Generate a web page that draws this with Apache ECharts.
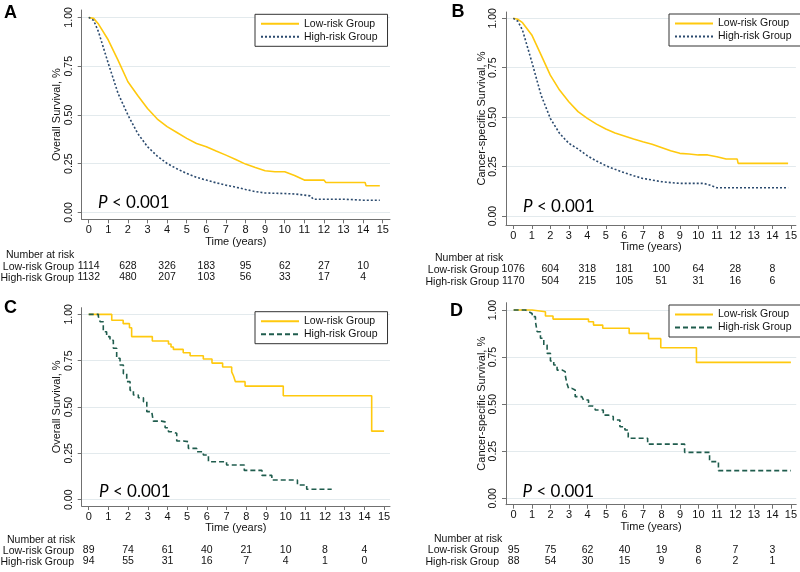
<!DOCTYPE html>
<html><head><meta charset="utf-8">
<script src="https://cdn.jsdelivr.net/npm/echarts@6/dist/echarts.min.js"></script>
<style>html,body{margin:0;padding:0;background:#fff}#c{width:800px;height:572px}</style>
</head><body><div id="c"></div>
<script>
// ---------- data ----------
const yearTicks = [0,1,2,3,4,5,6,7,8,9,10,11,12,13,14,15];
const survTicks = [0,0.25,0.5,0.75,1];
const riskYears = [0,2,4,6,8,10,12,14];

// Panel A - Overall survival (cohort)
const aLowT  = [0,0.25,0.5,1,1.5,2,2.5,3,3.5,4,4.5,5,5.5,6,6.5,7,7.5,8,8.5,9,9.5,10,10.5,11,12,12.1,14.1,14.15,14.85];
const aLowS  = [1,0.995,0.966,0.884,0.78,0.67,0.60,0.533,0.479,0.44,0.41,0.38,0.354,0.337,0.315,0.294,0.272,0.248,0.23,0.214,0.209,0.209,0.19,0.166,0.166,0.154,0.154,0.137,0.137];
const aHighT = [0,0.25,0.5,1,1.5,2,2.5,3,3.5,4,4.5,5,5.5,6,6.5,7,7.5,8,8.5,9,10,10.5,11,11.3,11.46,13,14,14.85];
const aHighS = [1,0.985,0.926,0.764,0.61,0.5,0.405,0.337,0.289,0.251,0.224,0.2,0.18,0.166,0.152,0.14,0.13,0.118,0.107,0.10,0.097,0.095,0.089,0.085,0.068,0.068,0.063,0.063];

// Panel B - Cancer-specific survival (cohort)
const bLowT  = [0,0.25,0.5,1,1.5,2,2.5,3,3.5,4,4.5,5,5.5,6,6.5,7,7.5,8,8.5,9,9.5,10,10.5,11,11.5,12.1,12.15,14.85];
const bLowS  = [1,0.995,0.978,0.916,0.815,0.713,0.637,0.578,0.528,0.494,0.465,0.44,0.42,0.405,0.39,0.376,0.363,0.347,0.33,0.317,0.314,0.309,0.309,0.30,0.288,0.288,0.266,0.266];
const bHighT = [0,0.25,0.5,1,1.5,2,2.5,3,3.5,4,4.5,5,5.5,6,6.5,7,7.5,8,8.5,9,10.3,10.6,11,14.85];
const bHighS = [1,0.985,0.94,0.78,0.612,0.494,0.418,0.368,0.339,0.305,0.278,0.255,0.236,0.219,0.204,0.19,0.182,0.174,0.169,0.165,0.165,0.157,0.143,0.143];

// Panel C - Overall survival (subgroup), step curves
const cLowT  = [0,1.17,1.75,2.07,2.18,3.23,4.05,4.18,4.3,4.8,5.15,5.82,6.26,6.8,7.26,7.35,7.45,7.94,9.88,14.37,15.0];
const cLowS  = [1,0.968,0.95,0.928,0.88,0.856,0.84,0.824,0.811,0.793,0.777,0.759,0.737,0.716,0.69,0.669,0.637,0.613,0.561,0.37,0.37];
const cHighT = [0,0.49,0.58,0.74,0.91,1.08,1.25,1.42,1.59,1.76,1.93,2.1,2.27,2.52,2.78,2.95,3.2,3.28,3.7,3.88,4.05,4.2,4.47,4.8,5.06,5.48,5.82,6.08,7.0,7.9,8.8,9.3,10.6,11.07,12.34];
const cHighS = [1,0.989,0.96,0.906,0.88,0.86,0.817,0.763,0.727,0.68,0.637,0.59,0.565,0.55,0.529,0.475,0.466,0.424,0.42,0.388,0.367,0.358,0.317,0.313,0.277,0.259,0.241,0.205,0.187,0.158,0.131,0.106,0.079,0.056,0.056];

// Panel D - Cancer-specific survival (subgroup), step curves
const dLowT  = [0,1.0,1.72,2.13,4.05,4.32,4.82,6.25,7.3,7.96,9.89,15.0];
const dLowS  = [1,0.991,0.968,0.952,0.938,0.92,0.903,0.876,0.848,0.80,0.722,0.722];
const dHighT = [0,0.64,0.82,1.0,1.18,1.27,1.45,1.63,1.81,1.99,2.17,2.35,2.62,2.79,2.88,2.97,3.15,3.33,3.69,3.78,4.05,4.28,4.41,4.85,5.12,5.39,5.75,6.02,6.2,7.25,9.25,10.6,11.08,15.0];
const dHighS = [1,0.991,0.982,0.965,0.938,0.885,0.85,0.814,0.77,0.729,0.708,0.681,0.673,0.655,0.61,0.584,0.575,0.54,0.536,0.522,0.49,0.481,0.469,0.442,0.434,0.416,0.38,0.363,0.319,0.288,0.244,0.195,0.147,0.147];

// Number at risk (at years 0,2,...,14)
const aRiskLow  = [1114,628,326,183,95,62,27,10];
const aRiskHigh = [1132,480,207,103,56,33,17,4];
const bRiskLow  = [1076,604,318,181,100,64,28,8];
const bRiskHigh = [1170,504,215,105,51,31,16,6];
const cRiskLow  = [89,74,61,40,21,10,8,4];
const cRiskHigh = [94,55,31,16,7,4,1,0];
const dRiskLow  = [95,75,62,40,19,8,7,3];
const dRiskHigh = [88,54,30,15,9,6,2,1];

const groupLabels = ['Low-risk Group','High-risk Group'];
const panelLetters = ['A','B','C','D'];
const yTitles = ['Overall Survival, %','Cancer-specific Survival, %','Overall Survival, %','Cancer-specific Survival, %'];
const xTitle = 'Time (years)';
const pText = '< 0.001';

// ---------- layout / style ----------
const FONT = '"Liberation Sans", Arial, sans-serif';
const GOLD = '#FFC90E';
const NAVY = '#2B4A6E';
const TEAL = '#1F5C4D';
const AXIS = '#707070';
const GRIDC = '#E3EAED';

const panels = [
  {left:81.7, top:10,    width:308.3, height:209.3, xmin:-0.357, xmax:15.37, ymin:-0.035, ymax:1.038,
   low:[aLowT,aLowS], high:[aHighT,aHighS], risk:[aRiskLow,aRiskHigh], hc:NAVY, hd:[2,2], step:false,
   riskM:[41.4,52.4], yGap:18, legend:{left:255,top:14.3},
   letter:[4,13], nar:[6,255], rows:[74,266.7,277.7], p:[98,203]},
  {left:506, top:12,     width:290.7, height:213,   xmin:-0.393, xmax:15.27, ymin:-0.0455, ymax:1.032,
   low:[bLowT,bLowS], high:[bHighT,bHighS], risk:[bRiskLow,bRiskHigh], hc:NAVY, hd:[2,2], step:false,
   riskM:[39,50.7], yGap:14, legend:{left:669,top:14},
   letter:[451.5,12.5], nar:[435,258], rows:[499,270,281.7], p:[523,206.5]},
  {left:81.7, top:307.7, width:308.3, height:198.3, xmin:-0.356, xmax:15.3, ymin:-0.034, ymax:1.036,
   low:[cLowT,cLowS], high:[cHighT,cHighS], risk:[cRiskLow,cRiskHigh], hc:TEAL, hd:[5,3], step:'end',
   riskM:[39,50], yGap:18, legend:{left:255,top:311.7},
   letter:[4,308.5], nar:[7,540], rows:[74,551,562], p:[99,491.5]},
  {left:506, top:302.7,  width:292,   height:202,   xmin:-0.414, xmax:15.29, ymin:-0.034, ymax:1.039,
   low:[dLowT,dLowS], high:[dHighT,dHighS], risk:[dRiskLow,dRiskHigh], hc:TEAL, hd:[5,3], step:'end',
   riskM:[39.6,51], yGap:14, legend:{left:669,top:305},
   letter:[450,311], nar:[434,539.3], rows:[499,550.3,561.7], p:[522.5,492]}
];

const zip = (t,s) => t.map((v,i)=>[v,s[i]]);

const grid=[], xAxis=[], yAxis=[], series=[], legend=[], graphic=[];
panels.forEach((p,i)=>{
  grid.push({left:p.left, top:p.top, width:p.width, height:p.height, containLabel:false});
  xAxis.push({type:'value', gridIndex:i, min:p.xmin, max:p.xmax, position:'bottom',
    name:xTitle, nameLocation:'middle', nameGap:16,
    nameTextStyle:{fontFamily:FONT, fontSize:11, color:'#111'},
    axisLine:{show:true, onZero:false, lineStyle:{color:AXIS, width:1}},
    axisTick:{show:true, length:4, customValues:yearTicks, lineStyle:{color:AXIS}},
    axisLabel:{customValues:yearTicks, margin:5, fontFamily:FONT, fontSize:11, color:'#111'},
    splitLine:{show:false}});
  [0,1].forEach(k=>{
    const arr = p.risk[k];
    xAxis.push({type:'value', gridIndex:i, min:p.xmin, max:p.xmax, position:'bottom',
      axisLine:{show:false, onZero:false}, axisTick:{show:false}, splitLine:{show:false},
      axisLabel:{customValues:riskYears, margin:p.riskM[k], fontFamily:FONT, fontSize:10.5, color:'#111',
        formatter:(v)=>{const j=Math.round(v/2); return (j>=0&&j<arr.length)?String(arr[j]):'';}}});
  });
  yAxis.push({type:'value', gridIndex:i, min:p.ymin, max:p.ymax,
    name:yTitles[i], nameLocation:'middle', nameRotate:90, nameGap:p.yGap,
    nameTextStyle:{fontFamily:FONT, fontSize:11, color:'#111'},
    axisLine:{show:true, onZero:false, lineStyle:{color:AXIS, width:1}},
    axisTick:{show:true, length:4, customValues:survTicks, lineStyle:{color:AXIS}},
    axisLabel:{customValues:survTicks, rotate:90, margin:7, fontFamily:FONT, fontSize:10.5, color:'#111',
      formatter:(v)=>v.toFixed(2)},
    splitLine:{show:true, lineStyle:{color:GRIDC, width:1}}});
  const L = panelLetters[i];
  series.push({type:'line', name:L+'-low', xAxisIndex:i*3, yAxisIndex:i, data:zip(p.low[0],p.low[1]),
    symbol:'none', step:p.step, silent:true, lineStyle:{color:GOLD, width:1.6}, itemStyle:{color:GOLD}, z:3});
  series.push({type:'line', name:L+'-high', xAxisIndex:i*3, yAxisIndex:i, data:zip(p.high[0],p.high[1]),
    symbol:'none', step:p.step, silent:true, lineStyle:{color:p.hc, width:1.6, type:p.hd}, itemStyle:{color:p.hc}, z:3});
  legend.push({data:[L+'-low', L+'-high'], orient:'vertical', left:p.legend.left, top:p.legend.top,
    padding:[4,10,4,5], itemGap:2, itemWidth:38, itemHeight:12, selectedMode:false,
    itemStyle:{opacity:0, borderWidth:0},
    borderColor:'#333', borderWidth:1, backgroundColor:'#fff', borderRadius:0,
    formatter:(n)=> n.endsWith('-low') ? groupLabels[0] : groupLabels[1],
    textStyle:{fontFamily:FONT, fontSize:10.5, color:'#111'}});
  graphic.push({type:'text', x:p.letter[0], y:p.letter[1], style:{text:L, font:'bold 18px '+FONT, fill:'#000', verticalAlign:'middle'}});
  graphic.push({type:'text', x:p.nar[0], y:p.nar[1], style:{text:'Number at risk', font:'10.5px '+FONT, fill:'#111', verticalAlign:'middle'}});
  graphic.push({type:'text', x:p.rows[0], y:p.rows[1], style:{text:groupLabels[0], font:'10.5px '+FONT, fill:'#111', align:'right', verticalAlign:'middle'}});
  graphic.push({type:'text', x:p.rows[0], y:p.rows[2], style:{text:groupLabels[1], font:'10.5px '+FONT, fill:'#111', align:'right', verticalAlign:'middle'}});
  graphic.push({type:'text', x:p.p[0], y:p.p[1], style:{text:'{i|P} '+pText, font:'17px Lato, "Open Sans", sans-serif', fill:'#000', verticalAlign:'middle',
    rich:{i:{fontStyle:'italic', fontFamily:'Lato', fontSize:17}}}});
});

const chart = echarts.init(document.getElementById('c'), null, {renderer:'canvas'});
chart.setOption({backgroundColor:'#fff', animation:false, grid, xAxis, yAxis, series, legend, graphic});
</script></body></html>
